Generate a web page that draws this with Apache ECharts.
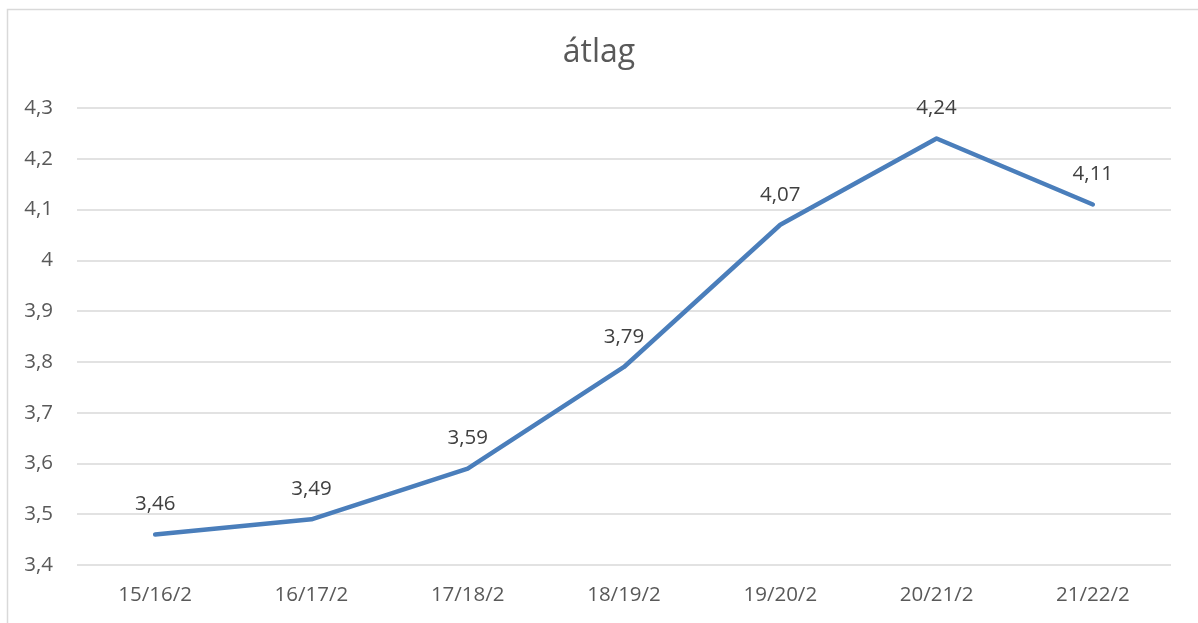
<!DOCTYPE html>
<html>
<head>
<meta charset="utf-8">
<script src="https://cdn.jsdelivr.net/npm/echarts@6/dist/echarts.min.js"></script>
<style>
  html, body { margin: 0; padding: 0; background: #fff; }
  #chart { width: 1198px; height: 623px; }
</style>
</head>
<body>
<div id="chart"></div>
<script>
const categories = ['15/16/2', '16/17/2', '17/18/2', '18/19/2', '19/20/2', '20/21/2', '21/22/2']
const values = [3.46, 3.49, 3.59, 3.79, 4.07, 4.24, 4.11]
const yMin = 3.4
const yMax = 4.3
const yStep = 0.1

const fmt = v => String(+(+v).toFixed(2)).replace('.', ',')
const font = '"Open Sans", "Liberation Sans", sans-serif'

const chart = echarts.init(document.getElementById('chart'), null, { renderer: 'canvas' })
chart.setOption({
    animation: false,
    backgroundColor: '#fff',
    title: {
        text: 'átlag',
        left: 'center',
        top: 32,
        textStyle: { color: '#595959', fontSize: 32, fontWeight: 'normal', fontFamily: font }
    },
    graphic: [{
        type: 'rect',
        shape: { x: 7.5, y: 9.5, width: 1300, height: 800 },
        style: { fill: 'none', stroke: '#d9d9d9', lineWidth: 1.5 },
        silent: true
    }],
    grid: { left: 77, right: 27, top: 108, bottom: 58 },
    xAxis: {
        type: 'category',
        data: categories,
        boundaryGap: true,
        axisLine: { show: false },
        axisTick: { show: false },
        axisLabel: { color: '#595959', fontSize: 20.5, fontFamily: font, margin: 20 }
    },
    yAxis: {
        type: 'value',
        min: yMin,
        max: yMax,
        interval: yStep,
        axisLine: { show: false },
        axisTick: { show: false },
        splitLine: { lineStyle: { color: '#d9d9d9', width: 1.5 } },
        axisLabel: { color: '#595959', fontSize: 20.5, fontFamily: font, margin: 24, formatter: fmt }
    },
    series: [{
        type: 'line',
        data: values,
        showSymbol: true,
        symbol: 'circle',
        symbolSize: 1,
        itemStyle: { color: '#4a7ebb' },
        lineStyle: { color: '#4a7ebb', width: 4.5, cap: 'round', join: 'round' },
        label: {
            show: true,
            position: 'top',
            distance: 19,
            color: '#404040',
            fontSize: 20.5,
            fontFamily: font,
            formatter: p => fmt(p.value)
        }
    }]
})
</script>
</body>
</html>
